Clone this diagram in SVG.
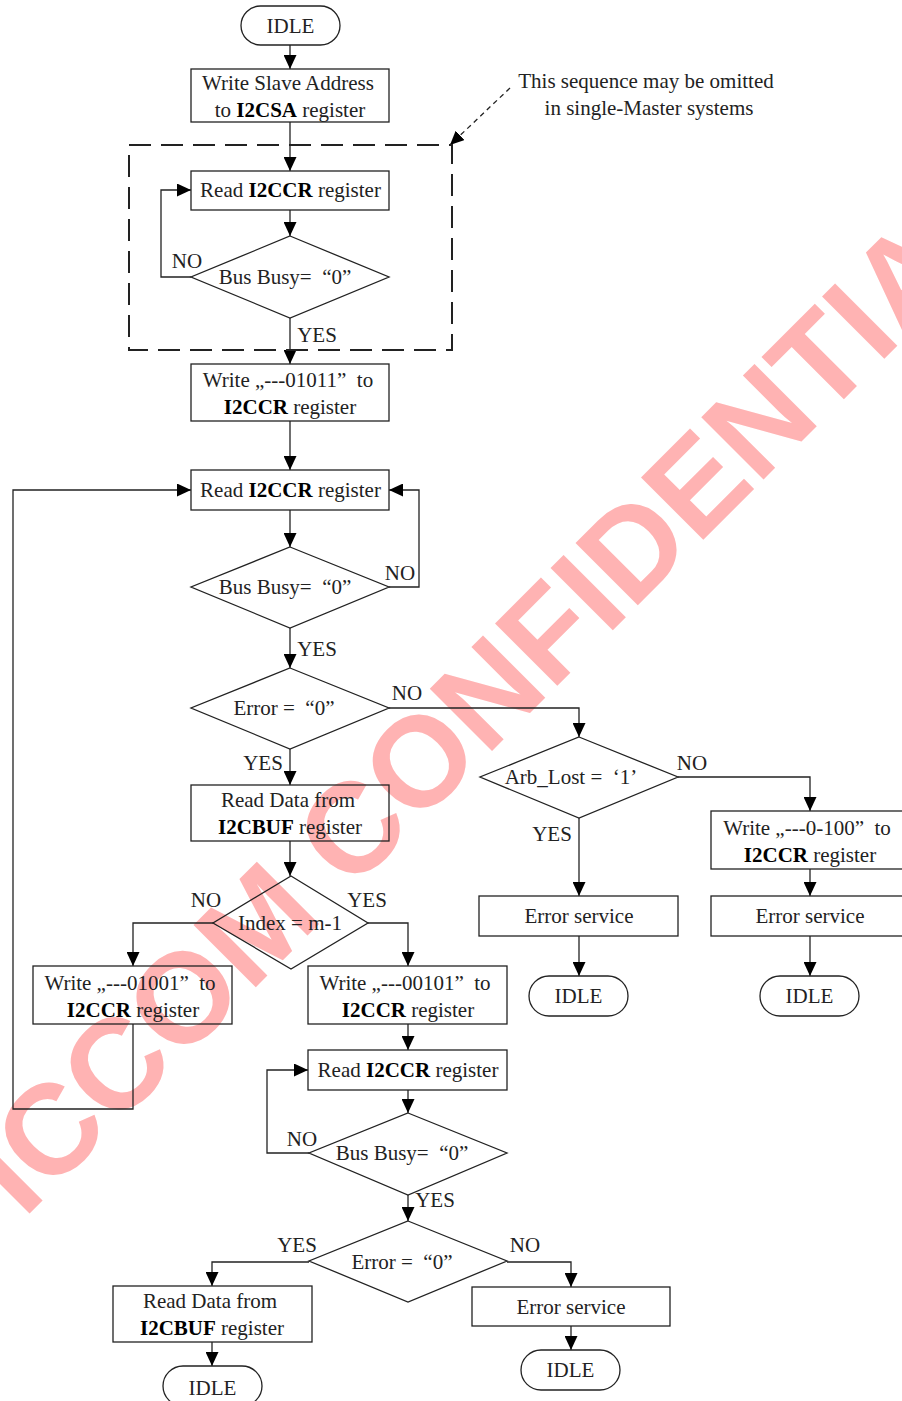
<svg xmlns="http://www.w3.org/2000/svg" width="902" height="1401" viewBox="0 0 902 1401">
<style>
.t{font-family:"Liberation Serif","Times New Roman",serif;font-size:21px;fill:#222;text-anchor:middle}
.b{font-weight:bold;fill:#000}
.s{fill:none;stroke:#222;stroke-width:1.3}
.c{fill:none;stroke:#222;stroke-width:1.3;marker-end:url(#a)}
.wm{font-family:"Liberation Sans",Arial,sans-serif;font-weight:bold;font-size:128px;fill:#FFB3B3}
</style>
<defs>
<marker id="a" markerUnits="userSpaceOnUse" markerWidth="14" markerHeight="13" refX="14" refY="6.5" orient="auto"><path d="M0,0 L14,6.5 L0,13 z" fill="#000"/></marker>
</defs>
<rect width="902" height="1401" fill="#fff"/>
<text class="wm" transform="translate(23.4,1219.6) rotate(-45)">ICCOM CONFIDENTIA</text>

<g id="connectors">
<path class="c" d="M290,45 V69"/>
<path class="c" d="M290,122 V171"/>
<path class="c" d="M290,210 V236"/>
<path class="c" d="M191,277 H161 V190 H191"/>
<path class="c" d="M290,318 V364"/>
<path class="c" d="M290,421 V470"/>
<path class="c" d="M290,510 V547"/>
<path class="c" d="M389,587 H419 V490 H389"/>
<path class="c" d="M290,628 V668"/>
<path class="c" d="M389,708 H579 V737"/>
<path class="c" d="M290,749 V785"/>
<path class="c" d="M290,841 V876"/>
<path class="c" d="M213,923 H133 V966"/>
<path class="c" d="M368,923 H408 V966"/>
<path class="c" d="M133,1024 V1109 H13 V490 H191"/>
<path class="c" d="M408,1024 V1050"/>
<path class="c" d="M408,1090 V1113"/>
<path class="c" d="M309,1153 H267 V1070 H308"/>
<path class="c" d="M408,1195 V1221"/>
<path class="c" d="M309,1262 H212 V1286"/>
<path class="c" d="M507,1262 H571 V1287"/>
<path class="c" d="M212,1342 V1366"/>
<path class="c" d="M571,1326 V1350"/>
<path class="c" d="M579,818 V896"/>
<path class="c" d="M678,777 H810 V811"/>
<path class="c" d="M810,869 V896"/>
<path class="c" d="M579,936 V976"/>
<path class="c" d="M810,936 V976"/>
<path class="c" d="M510,88 L450,145" stroke-dasharray="5 4"/>
<text class="t" x="187" y="268">NO</text>
<text class="t" x="317" y="342">YES</text>
<text class="t" x="400" y="580">NO</text>
<text class="t" x="317" y="656">YES</text>
<text class="t" x="407" y="700">NO</text>
<text class="t" x="263" y="770">YES</text>
<text class="t" x="206" y="907">NO</text>
<text class="t" x="367" y="907">YES</text>
<text class="t" x="302" y="1146">NO</text>
<text class="t" x="435" y="1207">YES</text>
<text class="t" x="297" y="1252">YES</text>
<text class="t" x="525" y="1252">NO</text>
<text class="t" x="552" y="841">YES</text>
<text class="t" x="692" y="770">NO</text>
</g>

<g id="group-optional">
<rect x="129" y="145" width="323" height="205" fill="none" stroke="#222" stroke-width="2" stroke-dasharray="22 10"/>
</g>
<g id="note">
<text class="t" x="646" y="88">This sequence may be omitted</text>
<text class="t" x="649" y="115">in single-Master systems</text>
</g>

<g id="idle-start"><rect class="s" x="241" y="6" width="99" height="39" rx="19.5"/><text class="t" x="290.5" y="33">IDLE</text></g>
<g id="write-sa"><rect class="s" x="191" y="69" width="198" height="53"/><text class="t" x="288" y="90">Write Slave Address</text><text class="t" x="290" y="117">to <tspan class="b">I2CSA</tspan> register</text></g>
<g id="read-ccr-1"><rect class="s" x="191" y="171" width="198" height="39"/><text class="t" x="290.5" y="197">Read <tspan class="b">I2CCR</tspan> register</text></g>
<g id="busy-1"><path class="s" d="M290,236 L389,277 L290,318 L191,277 Z"/><text class="t" x="285" y="284">Bus Busy=&#160; “0”</text></g>
<g id="write-01011"><rect class="s" x="191" y="364" width="198" height="57"/><text class="t" x="288" y="387">Write „---01011”&#160; to</text><text class="t" x="290" y="414"><tspan class="b">I2CCR</tspan> register</text></g>
<g id="read-ccr-2"><rect class="s" x="191" y="470" width="198" height="40"/><text class="t" x="290.5" y="497">Read <tspan class="b">I2CCR</tspan> register</text></g>
<g id="busy-2"><path class="s" d="M290,547 L389,587 L290,628 L191,587 Z"/><text class="t" x="285" y="594">Bus Busy=&#160; “0”</text></g>
<g id="error-1"><path class="s" d="M290,668 L389,708 L290,749 L191,708 Z"/><text class="t" x="284" y="715">Error =&#160; “0”</text></g>
<g id="read-buf-1"><rect class="s" x="191" y="785" width="198" height="56"/><text class="t" x="288" y="807">Read Data from</text><text class="t" x="290" y="834"><tspan class="b">I2CBUF</tspan> register</text></g>
<g id="index"><path class="s" d="M291,876 L368,923 L291,969 L213,923 Z"/><text class="t" x="290" y="930">Index = m-1</text></g>
<g id="write-01001"><rect class="s" x="33" y="966" width="199" height="58"/><text class="t" x="130" y="990">Write „---01001”&#160; to</text><text class="t" x="133" y="1017"><tspan class="b">I2CCR</tspan> register</text></g>
<g id="write-00101"><rect class="s" x="308" y="966" width="199" height="58"/><text class="t" x="405" y="990">Write „---00101”&#160; to</text><text class="t" x="408" y="1017"><tspan class="b">I2CCR</tspan> register</text></g>
<g id="read-ccr-3"><rect class="s" x="308" y="1050" width="199" height="40"/><text class="t" x="408" y="1077">Read <tspan class="b">I2CCR</tspan> register</text></g>
<g id="busy-3"><path class="s" d="M408,1113 L507,1153 L408,1195 L309,1153 Z"/><text class="t" x="402" y="1160">Bus Busy=&#160; “0”</text></g>
<g id="error-2"><path class="s" d="M408,1221 L507,1261 L408,1302 L309,1261 Z"/><text class="t" x="402" y="1269">Error =&#160; “0”</text></g>
<g id="read-buf-2"><rect class="s" x="113" y="1286" width="199" height="56"/><text class="t" x="210" y="1308">Read Data from</text><text class="t" x="212" y="1335"><tspan class="b">I2CBUF</tspan> register</text></g>
<g id="idle-bl"><rect class="s" x="163" y="1366" width="99" height="40" rx="20"/><text class="t" x="212.5" y="1395">IDLE</text></g>
<g id="err-svc-3"><rect class="s" x="472" y="1287" width="198" height="39"/><text class="t" x="571" y="1314">Error service</text></g>
<g id="idle-br"><rect class="s" x="521" y="1350" width="99" height="40" rx="20"/><text class="t" x="570.5" y="1377">IDLE</text></g>
<g id="arb"><path class="s" d="M579,737 L678,777 L579,818 L480,777 Z"/><text class="t" x="571" y="784">Arb_Lost =&#160; ‘1’</text></g>
<g id="err-svc-1"><rect class="s" x="479" y="896" width="199" height="40"/><text class="t" x="579" y="923">Error service</text></g>
<g id="idle-m"><rect class="s" x="529" y="976" width="99" height="40" rx="20"/><text class="t" x="578.5" y="1003">IDLE</text></g>
<g id="write-0-100"><rect class="s" x="711" y="811" width="198" height="58"/><text class="t" x="807" y="835">Write „---0-100”&#160; to</text><text class="t" x="810" y="862"><tspan class="b">I2CCR</tspan> register</text></g>
<g id="err-svc-2"><rect class="s" x="711" y="896" width="198" height="40"/><text class="t" x="810" y="923">Error service</text></g>
<g id="idle-r"><rect class="s" x="760" y="976" width="99" height="40" rx="20"/><text class="t" x="809.5" y="1003">IDLE</text></g>
</svg>
